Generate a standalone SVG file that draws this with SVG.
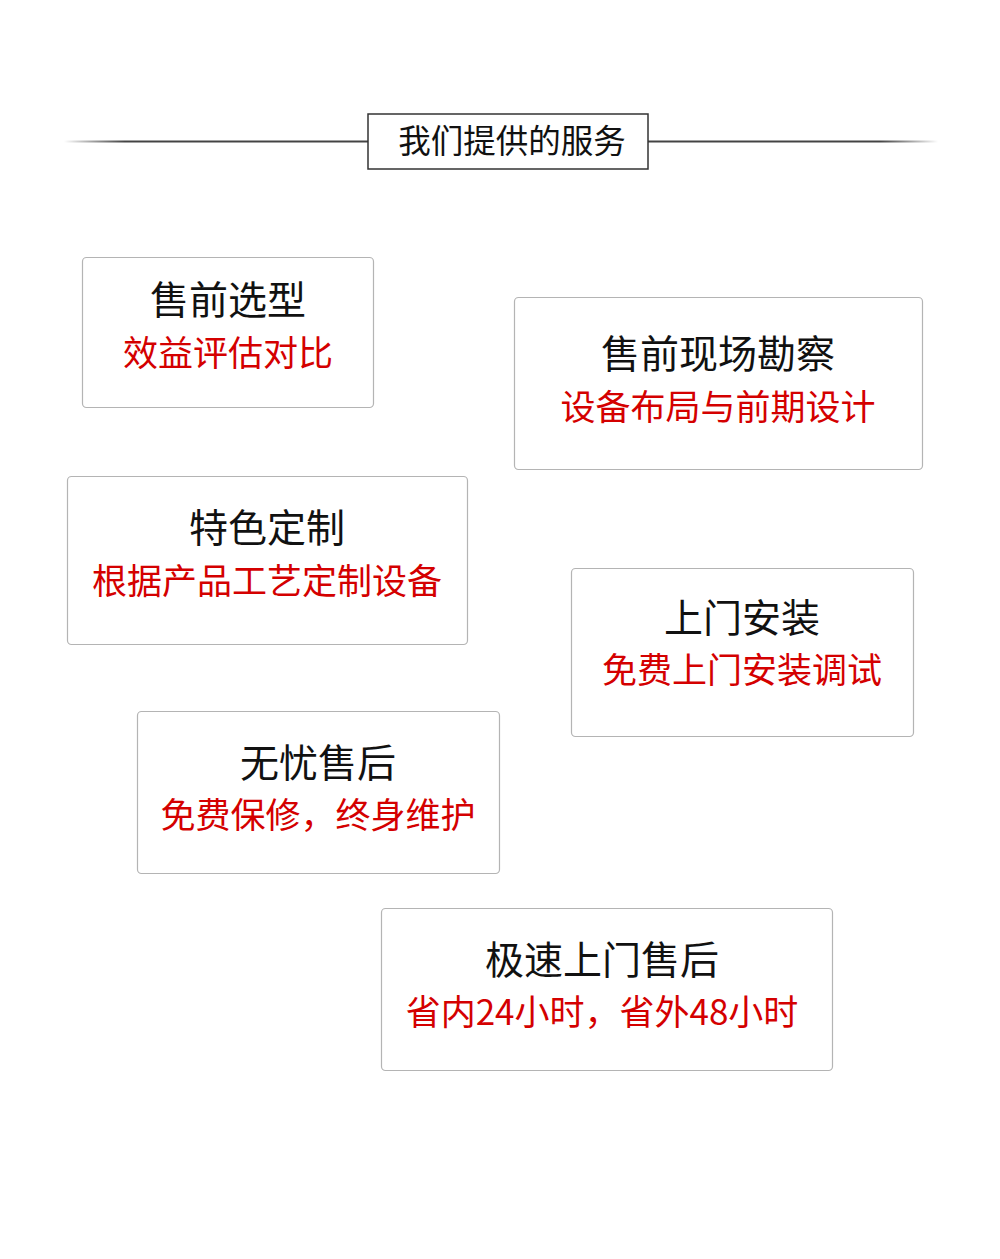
<svg xmlns="http://www.w3.org/2000/svg" width="1000" height="1259" viewBox="0 0 1000 1259">
<style>
text{font-family:"Noto Sans CJK SC","Noto Sans",sans-serif;text-anchor:middle}
.t{font-size:39px;fill:#111}
.s{font-size:35px;fill:#d40000}
.b{fill:#fff;stroke:#b4b4b4;stroke-width:1.2}
</style>
<defs>
<linearGradient id="gl" x1="0" x2="1"><stop offset="0" stop-color="#333" stop-opacity="0"/><stop offset="0.2" stop-color="#444"/><stop offset="1" stop-color="#444"/></linearGradient>
<linearGradient id="gr" x1="1" x2="0"><stop offset="0" stop-color="#333" stop-opacity="0"/><stop offset="0.2" stop-color="#444"/><stop offset="1" stop-color="#444"/></linearGradient>
</defs>
<rect width="1000" height="1259" fill="#fff"/>
<g id="header">
<rect x="64" y="140.5" width="304" height="2" fill="url(#gl)"/>
<rect x="648" y="140.5" width="290" height="2" fill="url(#gr)"/>
<rect x="368" y="114" width="280" height="55" fill="#fff" stroke="#333" stroke-width="1.5"/>
<text x="512" y="153" style="font-size:32.5px;fill:#111">我们提供的服务</text>
</g>
<g id="n1"><rect class="b" x="82.5" y="257.5" width="291" height="150" rx="4"/><text class="t" x="228" y="314">售前选型</text><text class="s" x="228" y="366">效益评估对比</text></g>
<g id="n2"><rect class="b" x="514.5" y="297.5" width="408" height="172" rx="4"/><text class="t" x="718" y="368">售前现场勘察</text><text class="s" x="718" y="420">设备布局与前期设计</text></g>
<g id="n3"><rect class="b" x="67.5" y="476.5" width="400" height="168" rx="4"/><text class="t" x="267" y="542">特色定制</text><text class="s" x="267" y="594">根据产品工艺定制设备</text></g>
<g id="n4"><rect class="b" x="571.5" y="568.5" width="342" height="168" rx="4"/><text class="t" x="742" y="632">上门安装</text><text class="s" x="742" y="683">免费上门安装调试</text></g>
<g id="n5"><rect class="b" x="137.5" y="711.5" width="362" height="162" rx="4"/><text class="t" x="318" y="777">无忧售后</text><text class="s" x="318" y="828">免费保修，终身维护</text></g>
<g id="n6"><rect class="b" x="381.5" y="908.5" width="451" height="162" rx="4"/><text class="t" x="602" y="974">极速上门售后</text><text class="s" x="602" y="1025">省内24小时，省外48小时</text></g>
<g id="connectors"/>
</svg>
